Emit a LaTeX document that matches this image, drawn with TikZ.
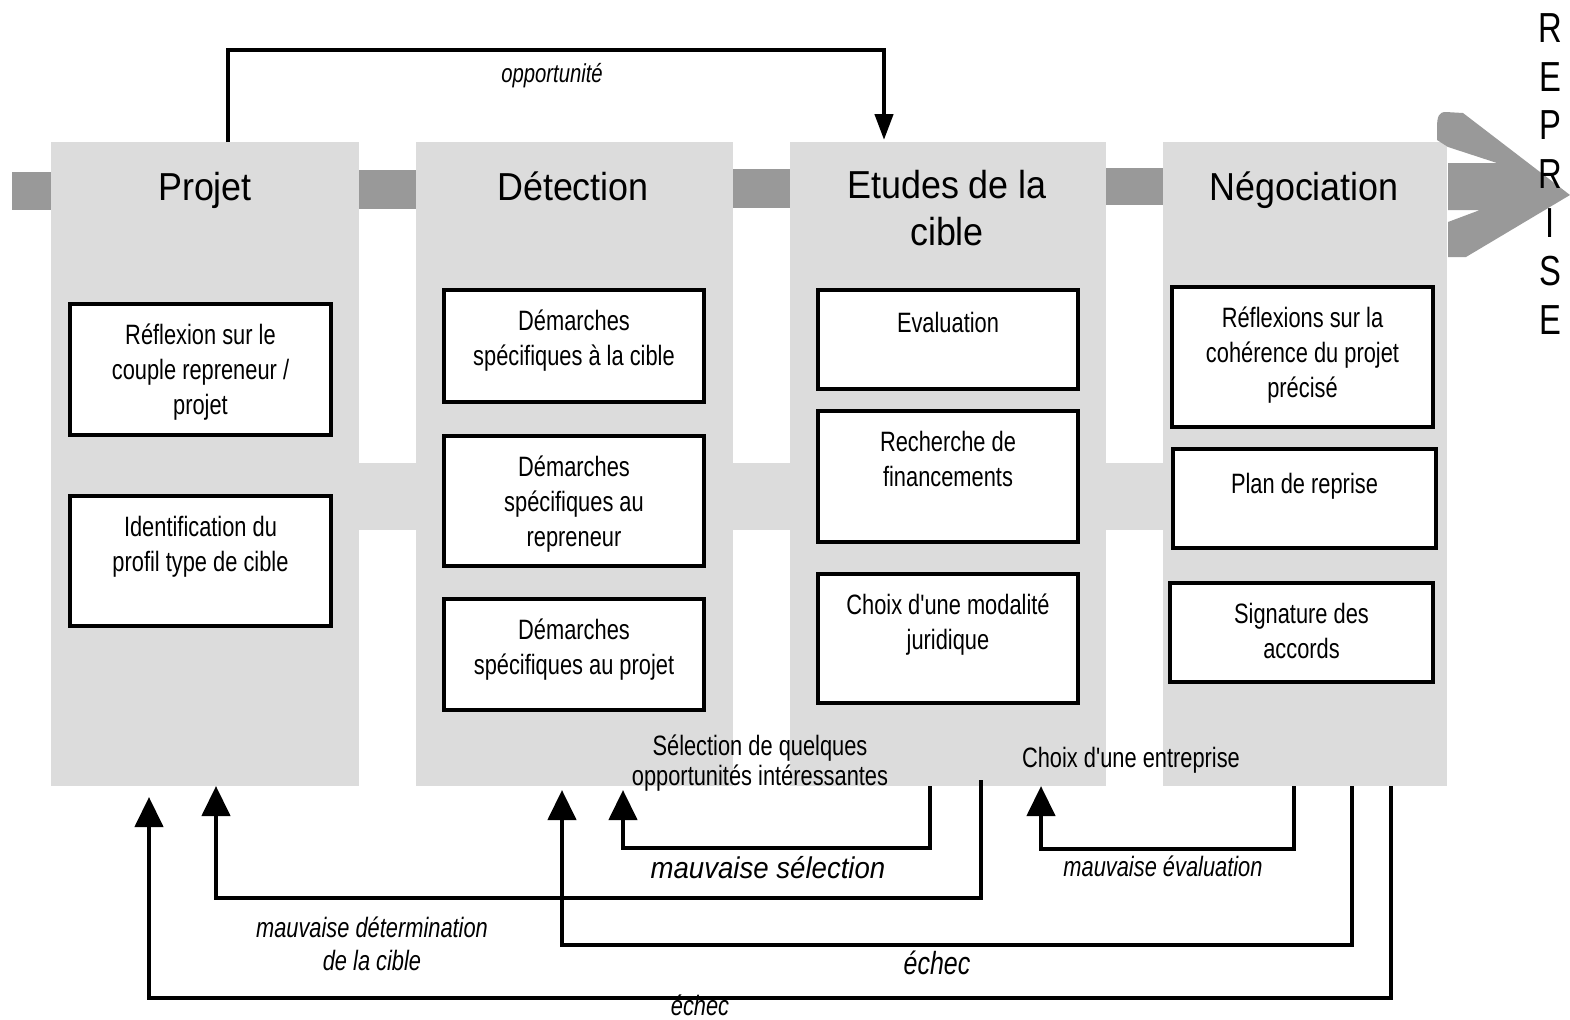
\documentclass[tikz,border=0pt]{standalone}
\usepackage{fontspec}
\setmainfont{Liberation Sans}
\newfontfamily\narrowfont[FakeStretch=0.78]{Liberation Sans}
\newfontfamily\headfont[FakeStretch=0.92]{Liberation Sans}
\usetikzlibrary{positioning,arrows.meta}
\definecolor{colgray}{gray}{0.863}
\definecolor{bargray}{gray}{0.6}
\tikzset{col/.style={fill=colgray,inner sep=0pt}}
\tikzset{box/.style={draw,fill=white,line width=2.2pt,inner sep=0pt}}
\tikzset{btxt/.style={inner sep=0pt,align=center,font=\narrowfont\fontsize{14}{17.5}\selectfont,execute at begin node={\rule{0pt}{13pt}}}}
\tikzset{head/.style={inner sep=0pt,align=center,anchor=north,font=\headfont\fontsize{19.5}{23.5}\selectfont,execute at begin node={\rule{0pt}{15pt}}}}
\tikzset{lab/.style={inner sep=0pt,align=center,anchor=north,font=\narrowfont\fontsize{14}{15}\selectfont,execute at begin node={\rule{0pt}{12pt}}}}
\tikzset{rep/.style={inner sep=0pt,font=\narrowfont\fontsize{21}{21}\selectfont}}
\tikzset{fb/.style={line width=2.2pt,-{Triangle[width=14pt,length=15pt]}}}

\begin{document}
\begin{tikzpicture}[x=0.5pt,y=-0.5pt]
  \useasboundingbox (0,0) rectangle (1570,1019);
  % bars between the columns
  \fill[bargray] (12,172) rectangle (51,210);
  \fill[bargray] (359,170) rectangle (416,209);
  \fill[bargray] (733,169) rectangle (790,208);
  \fill[bargray] (1106,168) rectangle (1163,205);
  \fill[colgray] (359,463) rectangle (1163,530);
  % columns
  \node[col,minimum width=154pt,minimum height=322pt] (proj) at (205,464) {};
  \node[col,minimum width=158.5pt,minimum height=322pt] (det) at (574.5,464) {};
  \node[col,minimum width=158pt,minimum height=322pt] (etu) at (948,464) {};
  \node[col,minimum width=142pt,minimum height=322pt] (neg) at (1305,464) {};
  % the arrow to the right
  \fill[bargray] (1437,128) .. controls (1437,116) and (1439,112) .. (1446,112)
    -- (1463,113) -- (1570,195) -- (1466,257) -- (1448,257) -- (1448,222)
    -- (1480,210) -- (1448,210) -- (1448,163) -- (1497,163) -- (1448,147)
    -- (1437,140) -- cycle;
  \foreach \l [count=\i] in {R,E,P,R,I,S,E}
    \node[rep] (r\i) at (1550,{28+48.7*(\i-1)}) {\l};
  % titles
  \node[head] (tproj) at (205,170) {Projet};
  \node[head] (tdet) at (573,170) {Détection};
  \node[head] (tetu) at (947,170) {Etudes de la\\cible};
  \node[head] (tneg) at (1304,170) {Négociation};
  % boxes
  \node[box,minimum width=130.5pt,minimum height=65.5pt] (b11) at (200.5,369.5) {};
  \node[box,minimum width=130.5pt,minimum height=65pt] (b12) at (200.5,561) {};
  \node[box,minimum width=130pt,minimum height=56pt] (b21) at (574,346) {};
  \node[box,minimum width=130pt,minimum height=65pt] (b22) at (574,501) {};
  \node[box,minimum width=130pt,minimum height=55.5pt] (b23) at (574,654.5) {};
  \node[box,minimum width=130pt,minimum height=49.5pt] (b31) at (948,339.5) {};
  \node[box,minimum width=130pt,minimum height=65.5pt] (b32) at (948,476.5) {};
  \node[box,minimum width=130pt,minimum height=64.5pt] (b33) at (948,638.5) {};
  \node[box,minimum width=130.5pt,minimum height=70pt] (b41) at (1302.5,357) {};
  \node[box,minimum width=131.5pt,minimum height=49.5pt] (b42) at (1304.5,498.5) {};
  \node[box,minimum width=131.5pt,minimum height=49.5pt] (b43) at (1301.5,632.5) {};
  \node[btxt,below=11pt of b11.north] (x11) {Réflexion sur le\\couple repreneur /\\projet};
  \node[btxt,below=11pt of b12.north] (x12) {Identification du\\profil type de cible};
  \node[btxt,below=11pt of b21.north] (x21) {Démarches\\spécifiques à la cible};
  \node[btxt,below=11pt of b22.north] (x22) {Démarches\\spécifiques au\\repreneur};
  \node[btxt,below=11pt of b23.north] (x23) {Démarches\\spécifiques au projet};
  \node[btxt,below=9pt of b31.north] (x31) {Evaluation};
  \node[btxt,below=11pt of b32.north] (x32) {Recherche de\\financements};
  \node[btxt,below=11pt of b33.north] (x33) {Choix d'une modalité\\juridique};
  \node[btxt,below=11pt of b41.north] (x41) {Réflexions sur la\\cohérence du projet\\précisé};
  \node[btxt,below=10pt of b42.north] (x42) {Plan de reprise};
  \node[btxt,below=11pt of b43.north] (x43) {Signature des\\accords};
  % feedback loops
  \coordinate (po) at (228,142);
  \coordinate (eo) at (884,140);
  \draw[line width=2.2pt,-{Triangle[width=9pt,length=13pt]}] (po) -- ++(0,-92) -| (eo);
  \coordinate (ms1) at (930,786);
  \coordinate (ms2) at (623,790);
  \draw[fb] (ms1) -- ++(0,62) -| (ms2);
  \coordinate (md1) at (981,780);
  \coordinate (md2) at (216,786);
  \draw[fb] (md1) -- ++(0,118) -| (md2);
  \coordinate (me1) at (1294,786);
  \coordinate (me2) at (1041,786);
  \draw[fb] (me1) -- ++(0,63) -| (me2);
  \coordinate (ea1) at (1352,786);
  \coordinate (ea2) at (562,790);
  \draw[fb] (ea1) -- ++(0,159) -| (ea2);
  \coordinate (eb1) at (1391,786);
  \coordinate (eb2) at (149,797);
  \draw[fb] (eb1) -- ++(0,212) -| (eb2);
  % labels
  \node[lab,font=\narrowfont\itshape\fontsize{13}{15}\selectfont] (lopp) at (552,58) {opportunité};
  \node[lab] (lsel) at (760,734) {Sélection de quelques\\opportunités intéressantes};
  \node[lab] (lchx) at (1131,743) {Choix d'une entreprise};
  \node[lab,font=\headfont\itshape\fontsize{15}{15}\selectfont] (lms) at (768,854) {mauvaise sélection};
  \node[lab,font=\narrowfont\itshape\fontsize{14}{15}\selectfont] (lme) at (1163,852) {mauvaise évaluation};
  \node[lab,font=\narrowfont\itshape\fontsize{14}{16.5}\selectfont] (lmd) at (372,916) {mauvaise détermination\\de la cible};
  \node[lab,font=\narrowfont\itshape\fontsize{16}{16}\selectfont] (lea) at (937,950) {échec};
  \node[lab,font=\narrowfont\itshape\fontsize{14}{14}\selectfont] (leb) at (700,991) {échec};
\end{tikzpicture}
\end{document}
